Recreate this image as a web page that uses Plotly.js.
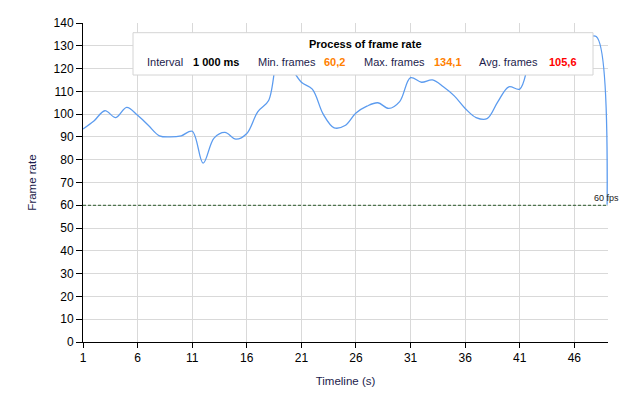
<!DOCTYPE html>
<html>
<head>
<meta charset="utf-8">
<script src="https://cdn.plot.ly/plotly-3.0.1.min.js"></script>
<style>
  html, body { margin: 0; padding: 0; background: #fff; }
  #chart { width: 628px; height: 404px; }
</style>
</head>
<body>
<div id="chart"></div>
<script>
// timeline in seconds and the frame rate read for each second
var seconds = [1, 2, 3, 4, 5, 6, 7, 8, 9, 10, 11, 12, 13, 14, 15, 16, 17, 18, 19, 20,
  21, 22, 23, 24, 25, 26, 27, 28, 29, 30, 31, 32, 33, 34, 35, 36, 37, 38, 39, 40,
  41, 42, 43, 44, 45, 46, 47, 48, 49];
var frameRate = [93.5, 97, 101.5, 98.5, 103, 99.5, 95, 90.5, 90, 90.5, 92.5, 78.5, 89.5, 92, 89, 91.5, 101, 106, 128, 121,
  114, 111, 100, 94, 95, 100.5, 103.5, 105, 102.5, 105.5, 116, 114, 115, 112, 108, 102.5, 98.5, 98, 105.5, 112,
  111, 124, 128, 130, 129, 130, 133, 134.1, 60.2];

var fpsTarget = 60;
var fpsLabel = "60 fps";

// summary box
var boxTitle = "Process of frame rate";
var statLabels = ["Interval", "Min. frames", "Max. frames", "Avg. frames"];
var statValues = ["1 000 ms", "60,2", "134,1", "105,6"];
var statColors = ["#000000", "#ff8000", "#ff8000", "#ff0000"];

var font = "Liberation Sans, Arial, sans-serif";
var textColor = "#1c1c4c";

// pixel -> paper helpers (plot area is 83..608 x 23..342)
function px(x) { return (x - 83.3) / 525; }
function py(y) { return (342 - y) / 319; }

var labelX = [145, 256.7, 362.3, 477.7];
var valueX = [191.7, 322.7, 432.7, 547.7];

var annotations = [
  {
    xref: "paper", yref: "paper", x: px(366), y: py(44),
    xanchor: "center", yanchor: "middle", showarrow: false,
    text: "<b>" + boxTitle + "</b>",
    font: { family: font, size: 11, color: "#000" },
  },
  {
    xref: "paper", yref: "y", x: px(621), y: fpsTarget,
    xanchor: "right", yanchor: "bottom", showarrow: false,
    text: fpsLabel,
    font: { family: font, size: 9, color: "#222" },
  },
];
for (var i = 0; i < statLabels.length; i++) {
  annotations.push({
    xref: "paper", yref: "paper", x: px(labelX[i]), y: py(62.3),
    xanchor: "left", yanchor: "middle", showarrow: false,
    text: statLabels[i],
    font: { family: font, size: 11, color: textColor },
  });
  annotations.push({
    xref: "paper", yref: "paper", x: px(valueX[i]), y: py(62.3),
    xanchor: "left", yanchor: "middle", showarrow: false,
    text: "<b>" + statValues[i] + "</b>",
    font: { family: font, size: 11, color: statColors[i] },
  });
}

Plotly.newPlot(
  "chart",
  [
    {
      x: seconds,
      y: frameRate,
      mode: "lines",
      line: { color: "#5b9bef", width: 1.3, shape: "spline", smoothing: 1 },
      hoverinfo: "x+y",
    },
  ],
  {
    width: 628,
    height: 404,
    margin: { l: 83, r: 20, t: 23, b: 62 },
    paper_bgcolor: "#fff",
    plot_bgcolor: "#fff",
    showlegend: false,
    font: { family: font, size: 12, color: "#000" },
    xaxis: {
      range: [1, 49.08],
      tick0: 1,
      dtick: 5,
      showgrid: true,
      gridcolor: "#d9d9d9",
      zeroline: false,
      showline: true,
      linecolor: "#000",
      linewidth: 1,
      ticks: "outside",
      ticklen: 5,
      tickcolor: "#000",
      tickfont: { family: font, size: 12, color: "#000" },
      title: { text: "Timeline (s)", standoff: 12, font: { family: font, size: 11.5, color: textColor } },
      fixedrange: true,
    },
    yaxis: {
      range: [0, 140],
      dtick: 10,
      showgrid: true,
      gridcolor: "#d9d9d9",
      zeroline: false,
      showline: true,
      linecolor: "#000",
      linewidth: 1,
      ticks: "outside",
      ticklen: 6,
      tickcolor: "#000",
      tickfont: { family: font, size: 12, color: "#000" },
      title: { text: "Frame rate", standoff: 14, font: { family: font, size: 11.5, color: textColor } },
      fixedrange: true,
    },
    shapes: [
      {
        type: "line", xref: "x", yref: "y", x0: 1, x1: 49, y0: fpsTarget, y1: fpsTarget,
        layer: "above", line: { color: "#2a5a2a", width: 1, dash: "3px,2px" },
      },
      {
        type: "rect", xref: "paper", yref: "paper",
        x0: px(133.3), x1: px(593.3), y0: py(75), y1: py(32.7),
        layer: "above", fillcolor: "#ffffff", line: { color: "#d4d4d4", width: 1 },
      },
    ],
    annotations: annotations,
  },
  { displayModeBar: false }
);
</script>
</body>
</html>
